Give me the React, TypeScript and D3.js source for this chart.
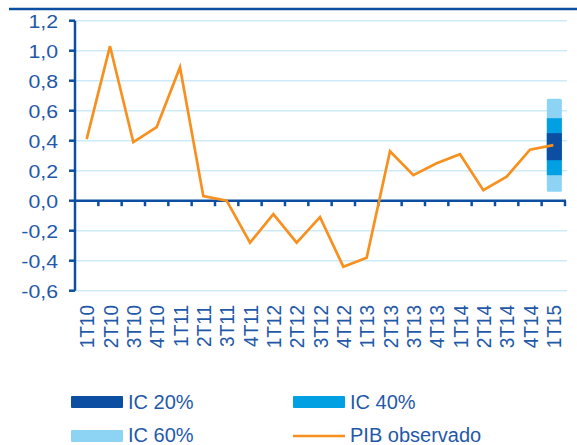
import * as d3 from "d3";

const quarters = [
  "1T10", "2T10", "3T10", "4T10",
  "1T11", "2T11", "3T11", "4T11",
  "1T12", "2T12", "3T12", "4T12",
  "1T13", "2T13", "3T13", "4T13",
  "1T14", "2T14", "3T14", "4T14",
  "1T15",
];
const pibObservado = [
  0.41, 1.03, 0.39, 0.49,
  0.89, 0.03, 0.0, -0.28,
  -0.09, -0.28, -0.11, -0.44,
  -0.38, 0.33, 0.17, 0.25,
  0.31, 0.07, 0.16, 0.34,
  0.37,
];
// fan chart for the last quarter: [lower, upper]
const fanQuarter = "1T15";
const ic20 = [0.27, 0.45];
const ic40 = [0.17, 0.55];
const ic60 = [0.06, 0.68];
const yTicks = [1.2, 1.0, 0.8, 0.6, 0.4, 0.2, 0.0, -0.2, -0.4, -0.6];

const blue = "#0c4fa2";
const textBlue = "#1f59a8";
const c20 = "#0b4ea2";
const c40 = "#00a0e3";
const c60 = "#8dd3f4";
const orange = "#f7901e";
const grid = "#cdeaf8";
const font = "'Liberation Sans', Arial, sans-serif";

export default function App() {
  const left = 75;
  const right = 565;

  const x = d3.scaleBand().domain(quarters).range([left, right]);
  const y = d3.scaleLinear().domain([-0.6, 1.2]).range([290.7, 20.7]);
  const cx = (q: string) => (x(q) as number) + x.bandwidth() / 2;

  const line = d3
    .line<number>()
    .x((d, i) => cx(quarters[i]))
    .y((d) => y(d));

  const fx = cx(fanQuarter);
  const fw = 15;
  const fmt = (v: number) => d3.format(".1f")(v).replace(".", ",").replace("−", "-");

  return (
    <svg
      width={577}
      height={445}
      style={{ position: "absolute", left: 0, top: 0 }}
      fontFamily={font}
    >
      <rect width={577} height={445} fill="#fff" />
      <line x1={9} x2={577} y1={9} y2={9} stroke={blue} strokeWidth={2.5} />

      {/* gridlines */}
      {yTicks
        .filter((t) => t !== 0)
        .map((t) => (
          <line key={"g" + t} x1={left} x2={567} y1={y(t)} y2={y(t)} stroke={grid} strokeWidth={1.5} />
        ))}

      {/* fan */}
      {[
        [ic60, c60],
        [ic40, c40],
        [ic20, c20],
      ].map(([r, c]: any, i) => (
        <rect
          key={"f" + i}
          x={fx - fw / 2 + 1}
          width={fw}
          y={y(r[1])}
          height={y(r[0]) - y(r[1])}
          fill={c}
          rx={i === 0 ? 1.5 : 0}
        />
      ))}

      {/* y axis */}
      <line x1={left} x2={left} y1={y(1.2)} y2={y(-0.6)} stroke={blue} strokeWidth={2.5} />
      {yTicks.map((t) => (
        <g key={"t" + t}>
          <line x1={69} x2={left} y1={y(t)} y2={y(t)} stroke={blue} strokeWidth={2.5} />
          <text
            transform={`translate(58,${y(t)}) scale(1.12,1)`}
            dy="0.36em"
            textAnchor="end"
            fontSize={19}
            fill={textBlue}
          >
            {fmt(t)}
          </text>
        </g>
      ))}

      {/* x axis at zero */}
      <line x1={left} x2={right + 1} y1={y(0)} y2={y(0)} stroke={blue} strokeWidth={2.5} />
      {quarters.map((q) => (
        <line
          key={"xt" + q}
          x1={(x(q) as number) + x.bandwidth()}
          x2={(x(q) as number) + x.bandwidth()}
          y1={y(0)}
          y2={y(0) + 5.5}
          stroke={blue}
          strokeWidth={2.5}
        />
      ))}
      {quarters.map((q) => (
        <text
          key={"xl" + q}
          transform={`translate(${cx(q)},305) rotate(-90) scale(1,1.1)`}
          dy="0.36em"
          textAnchor="end"
          fontSize={19}
          fill={textBlue}
        >
          {q}
        </text>
      ))}

      {/* observed line */}
      <path d={line(pibObservado) as string} fill="none" stroke={orange} strokeWidth={2.7} />

      {/* legend */}
      <g fontSize={20} fill={textBlue}>
        <rect x={71} y={396} width={52} height={12} fill={c20} rx={1} />
        <text x={128} y={409}>IC 20%</text>
        <rect x={293} y={396} width={52} height={12} fill={c40} rx={1} />
        <text x={350} y={409}>IC 40%</text>
        <rect x={71} y={430} width={52} height={12} fill={c60} rx={1} />
        <text x={128} y={442}>IC 60%</text>
        <line x1={293} x2={345} y1={436} y2={436} stroke={orange} strokeWidth={2.7} />
        <text x={350} y={442}>PIB observado</text>
      </g>
    </svg>
  );
}
